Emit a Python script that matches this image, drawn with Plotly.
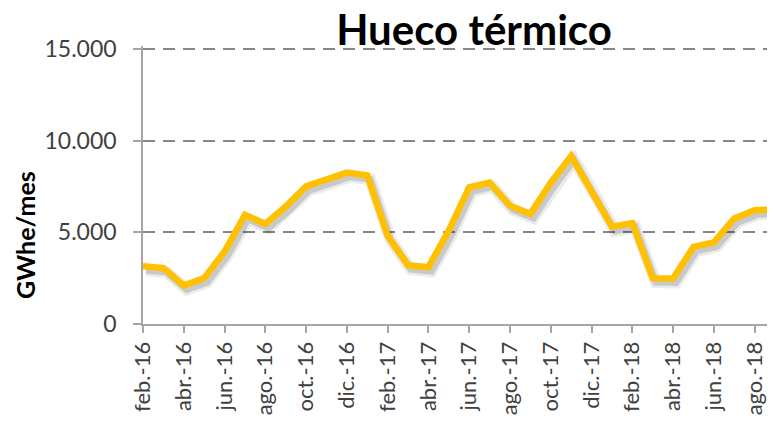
import plotly.graph_objects as go

meses = ['feb.-16', 'mar.-16', 'abr.-16', 'may.-16', 'jun.-16', 'jul.-16', 'ago.-16', 'sep.-16',
         'oct.-16', 'nov.-16', 'dic.-16', 'ene.-17', 'feb.-17', 'mar.-17', 'abr.-17', 'may.-17',
         'jun.-17', 'jul.-17', 'ago.-17', 'sep.-17', 'oct.-17', 'nov.-17', 'dic.-17', 'ene.-18',
         'feb.-18', 'mar.-18', 'abr.-18', 'may.-18', 'jun.-18', 'jul.-18', 'ago.-18', 'sep.-18']
hueco = [3150, 3050, 2100, 2500, 3950, 5950, 5450, 6400,
         7500, 7850, 8250, 8100, 4800, 3200, 3100, 5100,
         7450, 7700, 6450, 6000, 7700, 9150, 7300, 5300,
         5500, 2500, 2480, 4200, 4450, 5750, 6200, 6250]
y_ticks = [0, 5000, 10000, 15000]

gris = '#404040'
x_range = [0, 31]
y_range = [0, 15150]  # a little headroom so the 15.000 gridline is kept
# page body has an 8px margin, so the figure is 8px smaller than the window
W, H = 767, 418
L, T, B = 135, 38, 102
plot_w, plot_h = W - L, H - T - B
# shadow offset (about 3 px right, 4 px down)
dx = 3 / (plot_w / 31)
dy = 4 / (plot_h / y_range[1])

fig = go.Figure()

# invisible trace so the main axes (grid, ticks) get drawn
fig.add_trace(go.Scatter(
    x=meses, y=hueco, mode='lines', line=dict(width=0), opacity=0,
    hoverinfo='skip', showlegend=False
))

# drop shadow, on a shifted overlay axis
fig.add_trace(go.Scatter(
    x=meses, y=hueco, mode='lines', xaxis='x2', yaxis='y2',
    line=dict(color='rgba(0,0,0,0.08)', width=12), hoverinfo='skip', showlegend=False
))
fig.add_trace(go.Scatter(
    x=meses, y=hueco, mode='lines', xaxis='x2', yaxis='y2',
    line=dict(color='rgba(0,0,0,0.14)', width=7), hoverinfo='skip', showlegend=False
))

# the series itself, on top
fig.add_trace(go.Scatter(
    x=meses, y=hueco, mode='lines', name='Hueco térmico', xaxis='x3', yaxis='y3',
    line=dict(color='#FFC000', width=6.5), showlegend=False
))

cat_axis = dict(type='category', categoryorder='array', categoryarray=meses)

fig.update_layout(
    width=W, height=H,
    margin=dict(l=L, r=0, t=T, b=B),
    paper_bgcolor='white', plot_bgcolor='white',
    separators=',.',
    font=dict(family='Lato', color=gris),
    title=dict(text='<b>Hueco térmico</b>', font=dict(size=42, color='black', family='Lato'),
               x=466 / W, xanchor='center', y=1 - 22 / H, yanchor='middle',
               xref='container', yref='container'),
    xaxis=dict(
        **cat_axis, range=x_range, tickvals=meses[::2], tickangle=-90, automargin=False,
        tickfont=dict(size=22, color=gris),
        showgrid=False, showline=True, linecolor='#a6a6a6', linewidth=2,
        ticks='outside', ticklen=7, tickcolor='#a6a6a6', tickwidth=1.5
    ),
    yaxis=dict(
        range=y_range, tickvals=y_ticks, tickformat=',d', automargin=False,
        tickfont=dict(size=23, color=gris), ticklabelstandoff=12,
        showgrid=True, gridcolor='#868686', gridwidth=2, griddash='12px,8px',
        zeroline=False, showline=True, linecolor='#a6a6a6', linewidth=1.5,
        ticks='outside', ticklen=8, tickcolor='#a6a6a6', tickwidth=1.5
    ),
    xaxis2=dict(**cat_axis, range=[x_range[0] - dx, x_range[1] - dx], overlaying='x', visible=False),
    yaxis2=dict(range=[y_range[0] + dy, y_range[1] + dy], overlaying='y', visible=False),
    xaxis3=dict(**cat_axis, range=x_range, overlaying='x', visible=False),
    yaxis3=dict(range=y_range, overlaying='y', visible=False),
)

fig.add_annotation(
    text='<b>GWhe/mes</b>', textangle=-90, showarrow=False,
    xref='paper', yref='paper', x=-118 / plot_w, y=(324 - 235) / plot_h,
    xanchor='center', yanchor='middle', font=dict(size=25, color='black')
)

fig.write_html('out.html')
